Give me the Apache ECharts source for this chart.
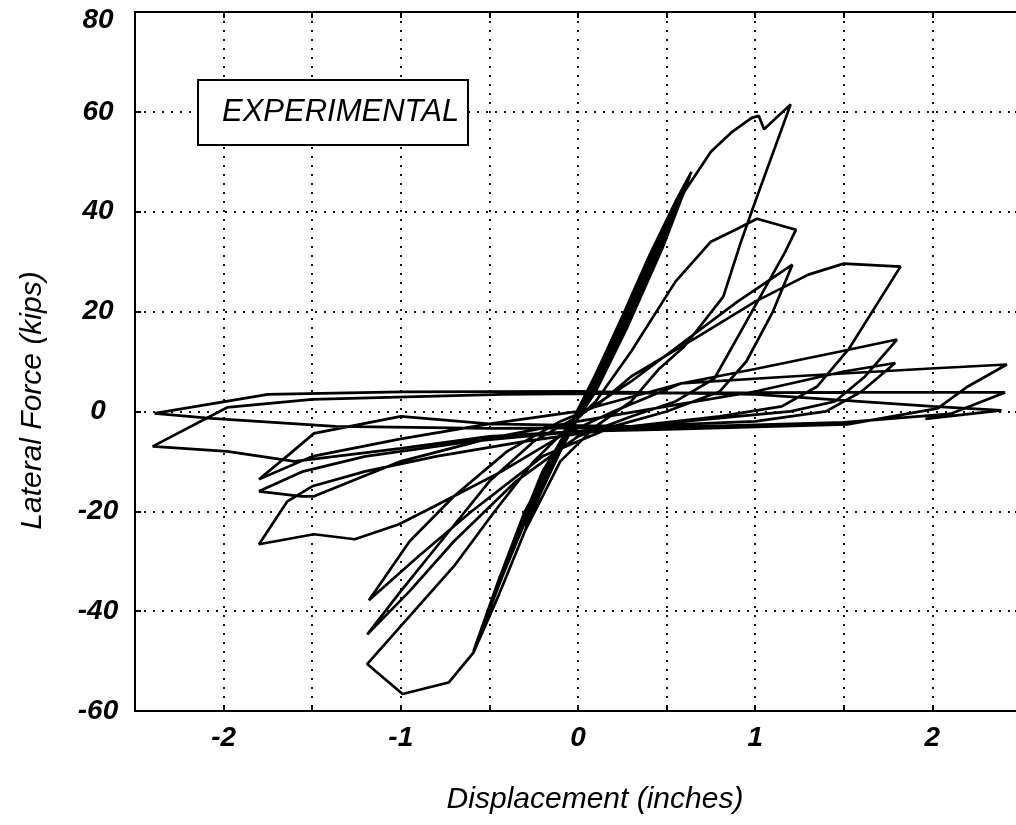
<!DOCTYPE html>
<html>
<head>
<meta charset="utf-8">
<script src="https://cdn.jsdelivr.net/npm/echarts@6/dist/echarts.min.js"></script>
<style>
  html, body { margin: 0; padding: 0; background: #fff; }
  #chart { width: 1016px; height: 825px; }
</style>
</head>
<body>
<div id="chart"></div>
<script>
// displacement (inches) and lateral force (kips), in load order
var dispIn = [
  0, 0.12, 0.25, 0.32, 0.2, 0.05, -0.1, -0.22, -0.3, -0.18, -0.02, 0.15, 0.33, 0.2, 0.03, -0.15, -0.3, -0.16, 0,
  0.2, 0.4, 0.55, 0.64, 0.52, 0.35, 0.15, 0, -0.2, -0.4, -0.58, -0.45, -0.25, -0.05,
  0.15, 0.35, 0.5, 0.62, 0.48, 0.28, 0.1, -0.05, -0.3, -0.45, -0.57, -0.42, -0.2, 0,
  0.2, 0.4, 0.63, 0.5, 0.3, 0.08, -0.1, -0.35, -0.59, -0.44, -0.2, 0.02,
  0.25, 0.45, 0.6, 0.75, 0.87, 0.98, 1.02, 1.05, 1.2, 1.0, 0.92, 0.82, 0.6, 0.46, 0.3, 0.1, -0.1, -0.3, -0.45,
  -0.59, -0.73, -0.99, -1.19, -0.95, -0.7, -0.47, -0.25, -0.05, 0.1,
  0.3, 0.55, 0.75, 0.9, 1.01, 1.23, 1.17, 0.95, 0.77, 0.55, 0.3, 0, -0.35, -0.7, -0.95, -1.19, -1.0, -0.75, -0.5, -0.25, 0,
  0.3, 0.6, 0.9, 1.21, 1.1, 0.95, 0.8, 0.5, 0.2, -0.2, -0.6, -0.9, -1.18, -0.95, -0.7, -0.4, -0.1, 0.1,
  0.3, 0.7, 1.0, 1.3, 1.5, 1.82, 1.53, 1.35, 1.15, 0.8, 0.3, -0.3, -0.8, -1.2, -1.5, -1.64, -1.8,
  -1.49, -1.26, -1.01, -0.81, -0.43, -0.1, 0.2,
  0.58, 1.0, 1.48, 1.8, 1.62, 1.45, 1.2, 0.6, 0, -0.6, -1.2, -1.55, -1.8, -1.56, -1.49, -1.0, -0.5, 0, 0.5,
  1.0, 1.5, 1.79, 1.6, 1.4, 1.0, 0.3, -0.5, -1.0, -1.49, -1.63, -1.8, -1.5, -1.0, -0.5, 0,
  0.58, 1.2, 1.99, 2.42, 2.2, 2.03, 1.52, 0.5, 0, -0.5, -1.0, -1.6, -1.98, -2.4,
  -1.98, -1.5, -0.43, 0.5, 1.5, 2.41, 2.1, 1.5, 0.5, -0.5, -1.37, -2.07, -2.39,
  -1.75, -1.0, 0, 1.0, 2.0, 2.39, 1.96
];
var forceKips = [
  0, 9, 19, 24, 13, 2, -8, -17, -23, -12, -1, 11, 25, 12, 1, -11, -24, -11, 0,
  15, 31, 42, 48, 38, 24, 8, -1, -13, -30, -47, -35, -18, -3,
  9, 26, 37, 46, 33, 17, 4, -4, -20, -34, -46, -32, -13, 0,
  13, 29, 47, 36, 19, 3, -6, -26, -48, -33, -12, 1,
  18, 34, 44, 52, 56, 58.8, 59.2, 56.5, 61.5, 42, 34, 23, 13, 8.6, 2, -3, -10, -24, -37,
  -48.3, -54.3, -56.6, -50.6, -41, -31, -20, -10, -3, 2,
  12, 26, 34, 36.6, 38.6, 36.4, 32, 18, 6.6, 2, -1, -5, -14, -26, -36, -44.7, -36, -25, -14, -6, -1,
  6, 14, 22, 29.4, 20, 10, 4, 0, -3, -9, -20, -29, -37.8, -26, -17, -8, -2, 1,
  7, 15.5, 22, 27.4, 29.6, 29, 12.6, 5, 1, -1, -3, -6, -9, -12, -15, -18, -26.6,
  -24.6, -25.6, -22.6, -19, -12, -5, 0,
  5.6, 8.5, 12, 14.4, 7, 2, 0, -2, -4, -6, -9, -12, -16, -17, -17, -10, -5.4, -2, 1,
  4, 8, 9.7, 4, 0, -2, -3, -2.5, -1, -4.4, -8.6, -13.6, -9, -5.5, -2.5, 0,
  5.6, 7, 8.6, 9.4, 5, 0.6, -2.6, -3.6, -4, -5, -7.4, -10, -8, -7,
  0.8, 2.4, 3.4, 3.7, 3.8, 3.8, -0.5, -2.2, -3.2, -3.4, -3, -1.4, -0.4,
  3.4, 3.9, 4.0, 3.4, 1.0, 0.2, -1.5
];
var xTicks = [-2, -1, 0, 1, 2];
var yTicks = [-60, -40, -20, 0, 20, 40, 60, 80];

var points = dispIn.map(function (x, i) { return [x, forceKips[i]]; });

var font = 'Liberation Sans, Arial, sans-serif';
var gridDots = { color: '#111', width: 2, type: [2, 7] };
var tickStyle = { show: true, inside: true, length: 6, lineStyle: { color: '#000', width: 2 } };
var frameLine = { show: true, onZero: false, lineStyle: { color: '#000', width: 2 } };

var myChart = echarts.init(document.getElementById('chart'));
var option = {
  backgroundColor: '#fff',
  animation: false,
  title: {
    text: 'EXPERIMENTAL',
    left: 198,
    top: 80,
    padding: [17, 9, 17, 24],
    borderWidth: 2,
    borderColor: '#000',
    backgroundColor: '#fff',
    textStyle: { fontFamily: font, fontStyle: 'italic', fontWeight: 'normal', fontSize: 31, color: '#000' }
  },
  grid: {
    left: 135, right: -5, top: 12, bottom: 114,
    outerBoundsMode: 'none', containLabel: false,
    show: true, borderColor: '#000', borderWidth: 2, backgroundColor: 'transparent'
  },
  xAxis: [{
    type: 'value', min: -2.5, max: 2.5, interval: 0.5,
    name: 'Displacement (inches)', nameLocation: 'middle', nameGap: 74,
    nameTextStyle: { fontFamily: font, fontStyle: 'italic', fontSize: 30, color: '#000', padding: [0, 0, 0, 34] },
    axisLine: frameLine,
    axisTick: tickStyle,
    splitLine: { show: true, lineStyle: gridDots },
    axisLabel: {
      margin: 13, fontFamily: font, fontStyle: 'italic', fontWeight: 'bold', fontSize: 28, color: '#000',
      formatter: function (v) {
        var r = Math.round(v);
        return (Math.abs(v - r) < 1e-9 && xTicks.indexOf(r) >= 0) ? String(r) : '';
      }
    }
  }, {
    type: 'value', position: 'top', min: -2.5, max: 2.5, interval: 0.5,
    axisLine: frameLine,
    axisTick: tickStyle, axisLabel: { show: false }, splitLine: { show: false }
  }],
  yAxis: [{
    type: 'value', min: -60, max: 80, interval: 20,
    name: 'Lateral Force (kips)', nameLocation: 'middle', nameGap: 87, nameRotate: 90,
    nameTextStyle: { fontFamily: font, fontStyle: 'italic', fontSize: 30, color: '#000', padding: [0, 78, 0, 0] },
    axisLine: frameLine,
    axisTick: tickStyle,
    splitLine: { show: true, lineStyle: gridDots },
    axisLabel: {
      margin: 37, align: 'center', fontFamily: font, fontStyle: 'italic', fontWeight: 'bold', fontSize: 28, color: '#000',
      formatter: function (v) {
        if (yTicks.indexOf(v) < 0) return '';
        return v === 80 ? '{top|80}' : String(v);
      },
      rich: { top: { fontFamily: font, fontStyle: 'italic', fontWeight: 'bold', fontSize: 28, color: '#000', padding: [16, 0, 0, 0] } }
    }
  }, {
    type: 'value', position: 'right', min: -60, max: 80, interval: 20,
    axisLine: frameLine,
    axisTick: tickStyle, axisLabel: { show: false }, splitLine: { show: false }
  }],
  series: [{
    name: 'Experimental',
    type: 'line',
    data: points,
    showSymbol: false,
    symbol: 'none',
    smooth: false,
    clip: true,
    lineStyle: { color: '#000', width: 2.7 },
    z: 3
  }]
};
myChart.setOption(option);
</script>
</body>
</html>
